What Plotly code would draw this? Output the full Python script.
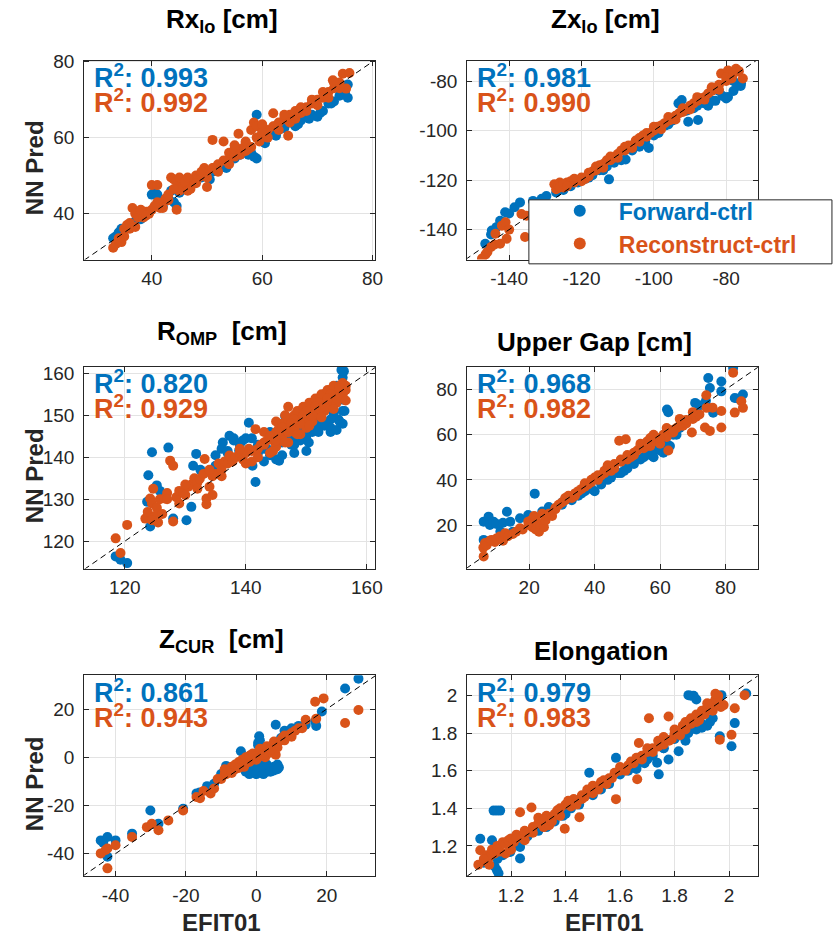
import plotly.graph_objects as go

W, H = 835, 939
BLUE = "#0072BD"
ORANGE = "#D95319"
FONT = "Liberation Sans, Arial, Helvetica, sans-serif"

# ---------------- data ----------------
titles = ["Rx<sub>lo</sub> [cm]", "Zx<sub>lo</sub> [cm]", "R<sub>OMP</sub>\u00a0 [cm]",
          "Upper Gap [cm]", "Z<sub>CUR</sub>\u00a0 [cm]", "Elongation"]
r2_fwd = ["0.993", "0.981", "0.820", "0.968", "0.861", "0.979"]
r2_rec = ["0.992", "0.990", "0.929", "0.982", "0.943", "0.983"]

# Rx_lo
rx_fwd_x = [33,33.5,34,34.5,35,36,37,38,39,40,40.5,41,42,43,43.5,44,44.5,45,46,47,48,49,50,51,52,53,54,55,56,57,58,58.5,59,59,60,61,62,63,64,65,66,67,68,69,70,71,72,73,74,75,75.5,75.5,
            50.5,53.5,57.5,60.5,62.5,66.5,68.5,70.5,72.5]
rx_fwd_y = [33.5,34,35,36,35.5,37,38,38.5,40,45,45.5,45,42,44,46,43,42,45.5,47,47.5,49,49.5,50.5,51,52,52.5,54,54.5,55.5,56,56,55,54.5,66,59,61,61,62,62.5,64,63,64.5,65.5,66,65.5,67,69,69.5,71,72,74,70.5,
            49,52,55.5,58.5,60.5,63.5,65,66.5,69]
rx_rec_x = [33,33.5,34,34.5,35,35.5,36,36.5,37,37.5,38,38.5,39,39.5,40,40,41,41.5,42,42.5,43,43.5,44,44.5,44.5,45,45.5,46,46.5,47,47.5,48,48.5,49,49.5,50,50,51,51.2,52,53,53.5,54,55,55.7,56,57,57.5,58,58.5,59,59.5,60,61,62,62.3,63,64,64.7,65,66,67,68,69,70,71,72,72.8,73,74,74.6,75.2,75.8,
            36,38,39,41,42,43,45,46,47,48,49,50,51,52,53,54,55,56,57,58,59,60,61,62,63,64,65,66,67,68,69,70,71,72,73,74,35,34,37,40.5,44,46.5,55,57,60]
rx_rec_y = [31,32,33,32.5,36,37,36,41.5,40,39,40.5,39,40.5,40,41,47.5,47.5,41.5,43,44,43.5,49.5,49,48.5,41,49.5,47,47,46,48.5,48,50,49.5,50,52,47,51,59.4,52,53,59,54,56,55,61,57,58.5,57,62,64,63,59,61,62,66.4,63,64,65,60.5,66,67,66.5,68,69,70,70.5,72,75.1,73,74.5,76.8,72.9,77,
            37.5,41,39.5,43,41.5,45,46,48.5,46.5,48,51,49.5,52,51,54,53,57,55.5,59,57.5,60,61.5,60,63,62,66,64,65,68,67,70,68.5,72,70.5,74.5,73,34,33.5,36.5,42,46.5,49.5,58,56.5,63.5]

# Zx_lo
zx_fwd_x = [-146.6,-145,-144.8,-143.5,-142.5,-141.5,-141.1,-140,-138.5,-137,-133.4,-131,-129.7,-127,-125,-123,-121,-119,-117,-115,-113,-112.4,-111,-109,-107.8,-106,-104,-102.4,-101.4,-100,-98.7,-97,-95,-93.2,-92.3,-91,-90.5,-89,-87.8,-86,-85,-83,-81,-80,-79.5,-78,-77,-75.9,
            -110,-100,-96,-88,-84,-82,-78,-76,-118,-114]
zx_fwd_y = [-145.7,-142,-140.4,-139,-136.4,-137,-133,-133.5,-131,-129,-128.4,-127.5,-126.4,-125,-124,-122.5,-121,-119.5,-118,-116,-114.5,-119.7,-113,-112,-111.7,-108,-106.5,-104.4,-107,-101,-101,-98,-96,-89,-87.7,-92,-96.4,-91,-95.7,-89,-90,-88,-86,-87,-86.4,-84,-82,-81,
            -111.5,-102,-97.5,-90,-88,-84,-80,-82,-119,-116]
zx_rec_x = [-147.5,-146.5,-146,-145,-144,-143.8,-142.5,-142,-141,-140.7,-140,-136.6,-135.6,-135.2,-127.5,-127,-126.5,-126,-125,-124,-123,-122,-121,-120,-119,-118,-117,-116,-115,-114,-113,-112,-111,-110,-109,-108,-107,-106,-105,-104,-103,-102,-101,-100,-99,-98,-97,-96,-95,-94,-93,-92,-91,-90,-89,-88,-87,-86,-85,-84,-83,-82,-81.4,-80,-79.5,-78.5,-77.3,-76.5,-75.4,
            -126,-125,-124,-122,-120,-118,-116,-114,-112,-110,-108,-106,-104,-102,-100,-98,-96,-94,-92,-90,-88,-86,-84,-82,-80,-78]
zx_rec_y = [-151.7,-150,-149,-147,-146,-141.7,-145.7,-138.4,-137,-143.7,-140,-133.7,-143,-134.4,-121.7,-123.7,-122,-121,-123,-121,-120.5,-121,-120,-119,-119.5,-117,-116.5,-116,-114,-113.5,-112,-112,-111,-109.5,-108,-108,-106,-106,-104,-103,-102,-101,-101,-100,-98.5,-98,-97,-96,-95.5,-94,-93,-92.5,-91.5,-90,-89,-88,-87,-86.5,-85,-84,-83,-81.5,-77,-80,-75.7,-79,-75,-76,-79,
            -123,-121.5,-122.5,-119.5,-120.5,-118.5,-114.5,-115,-110.5,-111,-106.5,-107,-104.5,-102.5,-98.5,-99.5,-94.5,-95.5,-91,-91.5,-86.5,-87.5,-82.5,-83.5,-78.5,-77]

# R_OMP
romp_fwd_x = [118.5,119.3,120.4,124.2,124.7,123.7,123.9,124.5,125.3,125.8,126.5,128,130.2,131,127.2,131.8,131.3,132.5,134,135,136.2,137.3,138,138.9,140.5,141.6,141.1,142,143,144,145.5,146.5,147,148.2,149,150.4,151,152,153,154,155.3,155.8,156,156.1,156.3,155.5,154.5,152.5,149.5,147.5,143.5,139.5,137,
              152,154,150,148,146,144,142,155.5,156,153,155,145,140,138,136,156.2,
              150,152,154,155,148,146,143,153,156,149,151,141,139,137,135]
romp_fwd_y = [116.4,115.6,114.8,123.5,124.7,129.4,135.7,141.2,133.3,132,131,125.4,125,128.2,142.3,140.8,138,137,136.5,138,143.5,145.1,144.5,141.6,148.2,134.1,138,141,142,140.5,139.2,149.8,144,145.1,144,143.5,146,147,147.5,146,149,160.8,159,153.7,151,155.5,150.5,149,146.5,143,142,144,141,
              148,149,145,143,143.5,146,143,148.5,151,155,157,139.5,144.5,144,142,160.5,
              141.5,146,147,146.5,141,140.5,139,148.5,148,148.5,149.5,144.5,143,141.5,140.5]
romp_rec_x = [118.5,119.3,120.4,123.4,123.8,124.2,124.5,124.7,125,125.3,125.8,126.2,126.6,127,127.5,128,128,128.5,129,129.7,130,130.5,131,131.5,132,132.4,133,133.2,133.5,134,134.5,135,135.5,136,136.5,137,137.3,137.8,138.3,139,139.5,140,140.5,141,141.6,142,142.5,143,143.5,144,144.5,145,145,145.5,146,146,146.5,147,147,147.5,148,148,148.5,149,149,149.5,150,150,150.5,151,151,151.5,152,152,152.5,153,153,153.5,154,154,154.5,155,155,155.5,155.8,156,156.2,156.5,
              144,145,146,146.5,147,148,148.5,149,149.5,150,150.5,151,151.5,152,152.5,153,153.5,154,154.5,155,155.5,156,156.5,147,145,143,142,141,140,139,136,134,132,130,129,127,125.5,124.5,133.5,134.5,
              143,144,145,146,147,148,149,150,151,152,153,154,155,156,144.5,146.5,148.5,150.5,152.5,154.5,156.5,145.5,147.5,149.5,151.5,153.5,155.5]
romp_rec_y = [120.7,117.2,123.9,125.4,127,130.2,129,132.5,126,128,130,126.5,130.2,131.5,139.2,138,124.7,130.5,132,131.7,131,133,133.5,135,134,134.9,136,139.6,130.2,133,135.5,136,138.5,137,139,138.5,140.4,139,140,141,139.5,141,142,141.5,146.7,142,143,143.5,144,145,144,146,143,147,145,148,147,146,149,148,147,150,149,148,151,150,149,152,151,150,153,152,151,154,152,153,155,152.5,154,156,153,155,156,154,155.5,157.7,156,157,
              141,142.5,144,150,143.5,146,151,145.5,152,147,153,148.5,154,150,155,151,156,152,157,153,157,155,156,152,148.5,146,140,139,138.5,142,135.5,137,132.5,133.5,129,130,124.5,125,128.8,131,
              143,145,144,147,146,149,148,151,150,153,152,155,154,157,141.5,143.5,145.5,147.5,149.5,151.5,153.5,146,148,150,152,154,156.5]

# Upper Gap
gap_fwd_x = [6.1,6.1,7.6,8,9.1,10,11.2,12,13.2,14.2,15,17.2,19.7,21.7,24,26,30,33,35,37,39,40,42,44,45,47,49,50,52,54,55,57,58,60,61,62.1,62.5,63,65,67,70.7,72,74,74.7,75.2,76.2,78.7,78.7,82.3,82.8,84,85.3,
             30,36,42,48,50,56,59,62,64,66,68,58]
gap_fwd_y = [21.5,13.4,23.7,20,21.5,20.5,17.1,21,25.9,21.5,17,23,24.4,33.9,26,28,30,31,33,35,36,35,39,40,41,43,44,45,47,49,50,51,53,53,52,71.2,70,55,60,65,74.1,73,75,85.1,80.7,69.7,83.6,79.2,89.5,76.3,76,77.8,
             29,34,38,43,46,52,55,56,60,63,66,50]
gap_rec_x = [6,6.1,6.5,7,8,8.5,9.5,10,11,12,12.7,13.5,15,16,17.2,18,19.7,20,20.5,21,21.5,22,22,22.5,23,23.5,24,24.5,25,26,27,28,29,30,31,32,33,34,35,36,37,38,39,40,41,42,43,44,45,46,47.5,48,49.5,50,51,52,53,54,55,56,57,58,59,60,61,62,62.5,63,64,65,66,67,68,69.7,70,71,72,73.7,74.1,74.2,75.2,76,78.7,78.7,82.3,82.8,84.8,85.3,
             25,28,31,34,37,39,41,43,44,46,48,50,52,54,56,58,60,62,64,66,68,70,57]
gap_rec_y = [10,6.1,12,11,13,13.4,12.5,14,14.9,13,16.4,15,16,17,18.6,18,21.5,20,22,19,24,18,23,21,17,20,25,19,22,25,24,27,29,30,31,33,32,34,35,36,37,38,40,41,40,42,43,45,44,47,57.3,48,58,49,50,52,53,55,54,57,55,57,58,56,60,59,53,62,61,63,64,64,65,61,67,68,69,63.2,77.5,71.9,61.7,72,63.2,70.5,87.5,69.8,74.8,71.9,
             24,27.5,32,33,38.5,39,42,44,46.5,45,49,51,51,56,55,60,58.5,63,62,67,66.5,70,58.5]

# Z_CUR
zc_fwd_x = [-44.2,-43.5,-42.3,-42.3,-40,-35.3,-30.1,-28.5,-27.8,-20.8,-17,-16.1,-14,-12,-10,-8.6,-7,-5,-4.4,-3,-2,-1,0,0.5,0.8,1,1.5,2,2.5,3,4,5,5.5,6,6.4,7,8,10,12,14,16.7,17,18.6,25.2,29,
            0,1,2,3,4,5,6,1,0.5,1.2,-1]
zc_fwd_y = [-34.5,-35.5,-33.1,-41.3,-34.5,-31.7,-22.1,-28,-27.6,-21.4,-15,-14.6,-12,-11,-7,-3.6,-6,-4,2.5,-6,-7,-5,-7,5,8.7,-2,-6,4,-5,-6,3,-4,13.5,-3,-4.3,8,11,12,13,13.5,14.8,13,19,28.5,32.6,
            -6.5,-4,-7,-3,-6,-5.5,-5,7,6,3,-3]
zc_rec_x = [-44.2,-42.8,-42.3,-42.3,-40,-35.3,-31.1,-29.7,-27.8,-25,-20.8,-17,-16,-15,-13,-12,-10,-9,-8.6,-8,-7,-6,-5,-4,-3.5,-3,-2,-1.5,-1,0,0.5,1,2,2.5,3,3.6,4,5,5.5,6,7.4,8,9,10,11,12,13,14,16.7,17,19.1,25.2,29,
            -9,-7,-6,-4,-3,-2,-1,0,1,2,3,4,5,6,7,8,10,-5,-11]
zc_rec_y = [-39.9,-38.5,-37.9,-46.1,-36.5,-33.1,-29,-27.6,-30.3,-26.2,-22.1,-16.5,-17,-14,-15,-13,-9,-7,-7.1,-6,-4,-5,-2,-1,-4,0,-2,1,-1,1,0,2,3,0,3,3.9,2,5,1,6,8,7,9,10,11,12,12,15.5,23,16,24.4,14.2,19.6,
            -5,-6.5,-3,-2.5,-1,0.5,1.5,-1,3.5,1,4.5,3,6.5,4,7,9,8.5,-4.5,-9]

# Elongation
el_fwd_x = [1.087,1.1,1.13,1.136,1.148,1.148,1.154,1.17,1.197,1.21,1.233,1.233,1.26,1.3,1.33,1.36,1.39,1.42,1.45,1.487,1.5,1.53,1.56,1.585,1.6,1.63,1.66,1.69,1.72,1.736,1.742,1.76,1.778,1.8,1.815,1.83,1.851,1.86,1.87,1.88,1.9,1.92,1.94,1.966,1.972,2.009,2.021,2.063,
            1.82,1.85,1.88,1.9,1.93,1.86,1.88,1.84,1.7,1.76,1.66,1.4,1.45,1.15,1.14,1.16]
el_fwd_y = [1.238,1.11,1.23,1.388,1.388,1.071,1.054,1.15,1.168,1.2,1.133,1.194,1.25,1.28,1.3,1.33,1.36,1.4,1.42,1.59,1.47,1.5,1.53,1.669,1.58,1.6,1.62,1.64,1.68,1.643,1.581,1.72,1.66,1.77,1.704,1.8,2.003,1.82,2.0,1.83,1.85,1.84,1.88,1.784,2.003,1.731,1.854,2.012,
            1.79,1.8,1.82,1.83,1.86,2.0,1.98,1.76,1.66,1.72,1.61,1.37,1.43,1.13,1.09,1.388]
el_rec_x = [1.08,1.087,1.1,1.11,1.12,1.13,1.14,1.15,1.16,1.17,1.18,1.19,1.2,1.21,1.22,1.233,1.24,1.25,1.26,1.275,1.28,1.3,1.31,1.32,1.33,1.34,1.35,1.36,1.37,1.38,1.397,1.4,1.42,1.43,1.44,1.451,1.46,1.47,1.48,1.49,1.5,1.52,1.53,1.55,1.56,1.58,1.585,1.6,1.62,1.63,1.65,1.663,1.669,1.68,1.7,1.706,1.72,1.74,1.75,1.76,1.778,1.79,1.8,1.82,1.83,1.84,1.85,1.86,1.87,1.88,1.89,1.9,1.91,1.92,1.93,1.94,1.95,1.96,1.966,1.98,2.009,2.021,2.057,
            1.1,1.12,1.15,1.18,1.2,1.22,1.25,1.28,1.3,1.32,1.35,1.38,1.41,1.44,1.46,1.48,1.5,1.52,1.54,1.57,1.6,1.62,1.64,1.66,1.68,1.7,1.72,1.74,1.76,1.78,1.8,1.82,1.84,1.86,1.88,1.9,1.92,1.94,1.96,1.97,1.95]
el_rec_y = [1.1,1.177,1.12,1.15,1.14,1.18,1.16,1.2,1.17,1.22,1.21,1.23,1.24,1.22,1.26,1.379,1.25,1.28,1.27,1.405,1.3,1.32,1.34,1.3,1.36,1.31,1.35,1.37,1.39,1.4,1.291,1.42,1.41,1.45,1.44,1.353,1.47,1.46,1.49,1.5,1.48,1.52,1.54,1.53,1.56,1.59,1.449,1.6,1.61,1.63,1.64,1.555,1.748,1.68,1.7,1.88,1.72,1.73,1.76,1.74,1.889,1.77,1.8,1.81,1.84,1.82,1.86,1.85,1.88,1.9,1.87,1.92,1.9,1.94,1.93,1.96,1.98,2.0,1.766,1.95,1.792,1.933,2.003,
            1.13,1.1,1.18,1.16,1.18,1.24,1.23,1.27,1.35,1.34,1.33,1.36,1.44,1.42,1.45,1.5,1.52,1.5,1.55,1.56,1.62,1.6,1.65,1.67,1.66,1.72,1.7,1.76,1.78,1.76,1.82,1.79,1.86,1.88,1.86,1.9,1.96,1.92,1.97,1.94,2.01]

# axis limits and ticks
x_ranges = [[27.75, 80.5], [-151.6, -71.3], [113.3, 161.4], [1.06, 89.8], [-48.9, 33.8], [1.039, 2.105]]
y_ranges = [[27.9, 80.3], [-152.1, -71.7], [113.5, 161.6], [0.7, 90.2], [-49.4, 34.0], [1.038, 2.109]]
x_ticks = [[40, 60, 80], [-140, -120, -100, -80], [120, 140, 160], [20, 40, 60, 80], [-40, -20, 0, 20], [1.2, 1.4, 1.6, 1.8, 2.0]]
y_ticks = [[40, 60, 80], [-140, -120, -100, -80], [120, 130, 140, 150, 160], [20, 40, 60, 80], [-40, -20, 0, 20], [1.2, 1.4, 1.6, 1.8, 2.0]]
x_ticktext = [["40", "60", "80"], ["-140", "-120", "-100", "-80"], ["120", "140", "160"], ["20", "40", "60", "80"], ["-40", "-20", "0", "20"], ["1.2", "1.4", "1.6", "1.8", "2"]]
y_ticktext = [["40", "60", "80"], ["-140", "-120", "-100", "-80"], ["120", "130", "140", "150", "160"], ["20", "40", "60", "80"], ["-40", "-20", "0", "20"], ["1.2", "1.4", "1.6", "1.8", "2"]]

fwd = [(rx_fwd_x, rx_fwd_y), (zx_fwd_x, zx_fwd_y), (romp_fwd_x, romp_fwd_y),
       (gap_fwd_x, gap_fwd_y), (zc_fwd_x, zc_fwd_y), (el_fwd_x, el_fwd_y)]
rec = [(rx_rec_x, rx_rec_y), (zx_rec_x, zx_rec_y), (romp_rec_x, romp_rec_y),
       (gap_rec_x, gap_rec_y), (zc_rec_x, zc_rec_y), (el_rec_x, el_rec_y)]
for k, (a, b) in enumerate(fwd + rec):
    assert len(a) == len(b), (k, len(a), len(b))

# ---------------- layout geometry (pixels) ----------------
col_px = [(85, 379), (471.7, 765)]
row_px = [(52, 253), (361, 565), (672.7, 875.7)]
title_pos = [(224.5, 12), (611, 12), (224.5, 327), (600, 336), (223.5, 638), (607, 648)]

def px(x):
    return x / W

def py(y):
    return 1 - y / H

fig = go.Figure()
annotations = []
AX = "#262626"

for i in range(6):
    r, c = divmod(i, 2)
    n = i + 1
    xa = "x" if n == 1 else f"x{n}"
    ya = "y" if n == 1 else f"y{n}"
    show = (i == 0)
    fig.add_trace(go.Scatter(x=fwd[i][0], y=fwd[i][1], mode="markers", xaxis=xa, yaxis=ya,
                             marker=dict(color=BLUE, size=10, line=dict(width=0)),
                             name=f"<b><span style='color:{BLUE}'>Forward-ctrl</span></b>",
                             showlegend=show, legendgroup="f", hoverinfo="skip"))
    fig.add_trace(go.Scatter(x=rec[i][0], y=rec[i][1], mode="markers", xaxis=xa, yaxis=ya,
                             marker=dict(color=ORANGE, size=10, line=dict(width=0)),
                             name=f"<b><span style='color:{ORANGE}'>Reconstruct-ctrl</span></b>",
                             showlegend=show, legendgroup="r", hoverinfo="skip"))
    lo = min(x_ranges[i][0], y_ranges[i][0])
    hi = max(x_ranges[i][1], y_ranges[i][1])
    fig.add_trace(go.Scatter(x=[lo, hi], y=[lo, hi], mode="lines", xaxis=xa, yaxis=ya,
                             line=dict(color="black", width=1, dash="6px,4px"),
                             showlegend=False, hoverinfo="skip"))

    x0, x1 = col_px[c]
    y0, y1 = row_px[r]
    axcommon = dict(showline=True, linecolor=AX, linewidth=1, mirror="ticks",
                    ticks="inside", ticklen=5, tickcolor=AX, tickwidth=1,
                    showgrid=True, gridcolor="#e3e3e3", gridwidth=1, zeroline=False,
                    tickfont=dict(family=FONT, size=19, color=AX), fixedrange=True)
    fig.update_layout(**{
        ("xaxis" if n == 1 else f"xaxis{n}"): dict(domain=[px(x0), px(x1)], range=x_ranges[i],
                                                    anchor=ya, tickvals=x_ticks[i], ticktext=x_ticktext[i],
                                                    ticklabelstandoff=2, **axcommon),
        ("yaxis" if n == 1 else f"yaxis{n}"): dict(domain=[py(y1), py(y0)], range=y_ranges[i],
                                                    anchor=xa, tickvals=y_ticks[i], ticktext=y_ticktext[i],
                                                    ticklabelstandoff=5, **axcommon),
    })

    tx, ty = title_pos[i]
    annotations.append(dict(x=px(tx), y=py(ty), xref="paper", yref="paper", text=f"<b>{titles[i]}</b>",
                            showarrow=False, xanchor="center", yanchor="middle",
                            font=dict(family=FONT, size=26, color="black")))
    annotations.append(dict(x=px(x0 + 8), y=py(y0 + 16), xref="paper", yref="paper",
                            text=f"<b>R<sup>2</sup>: {r2_fwd[i]}</b>", showarrow=False,
                            xanchor="left", yanchor="middle", font=dict(family=FONT, size=27, color=BLUE)))
    annotations.append(dict(x=px(x0 + 8), y=py(y0 + 41), xref="paper", yref="paper",
                            text=f"<b>R<sup>2</sup>: {r2_rec[i]}</b>", showarrow=False,
                            xanchor="left", yanchor="middle", font=dict(family=FONT, size=27, color=ORANGE)))

# y labels
for yc in [160, 471, 782]:
    annotations.append(dict(x=px(35), y=py(yc), xref="paper", yref="paper", text="<b>NN Pred</b>",
                            textangle=-90, showarrow=False, xanchor="center", yanchor="middle",
                            font=dict(family=FONT, size=24, color=AX)))
for xc in [224, 610]:
    annotations.append(dict(x=px(xc), y=py(922), xref="paper", yref="paper", text="<b>EFIT01</b>",
                            showarrow=False, xanchor="center", yanchor="middle",
                            font=dict(family=FONT, size=24, color=AX)))

# legend box (white panel drawn over panel 2)
shapes = [dict(type="rect", xref="paper", yref="paper", x0=px(534), x1=px(840), y0=py(257.3), y1=py(192.7),
               line=dict(color=AX, width=1), fillcolor="white", layer="above")]

fig.update_layout(
    width=W, height=H, margin=dict(l=0, r=0, t=0, b=0),
    paper_bgcolor="white", plot_bgcolor="white",
    annotations=annotations, shapes=shapes,
    showlegend=True,
    legend=dict(x=px(546), y=py(182), xanchor="left", yanchor="top", bgcolor="rgba(0,0,0,0)",
                borderwidth=0, itemsizing="constant", itemwidth=68,
                font=dict(family=FONT, size=23, color=AX), tracegroupgap=0),
    font=dict(family=FONT),
)

fig.write_html("out.html", config={"displayModeBar": False},
               post_script="document.body.style.margin='0px';document.body.style.overflow='hidden';")
